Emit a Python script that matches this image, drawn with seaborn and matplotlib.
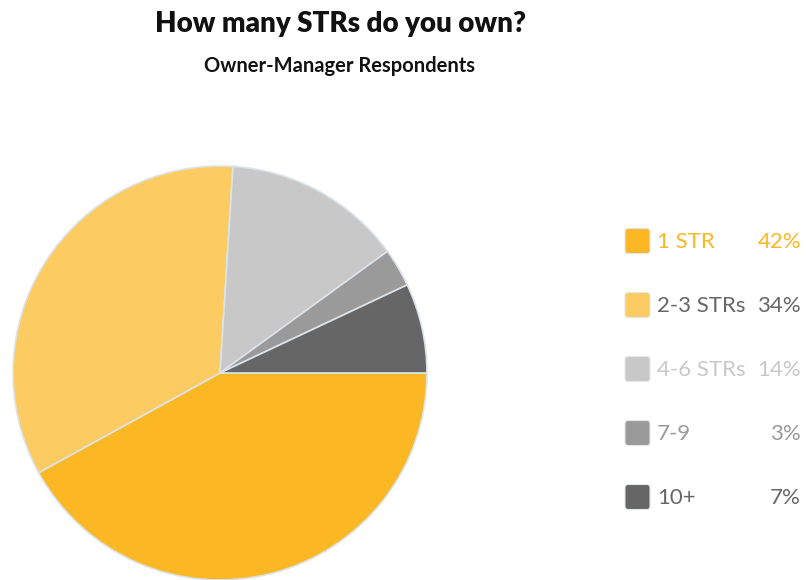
import matplotlib
matplotlib.use("Agg")
import matplotlib.pyplot as plt
from matplotlib.patches import FancyBboxPatch
import seaborn as sns

# Survey breakdown
categories = ["1 STR", "2-3 STRs", "4-6 STRs", "7-9", "10+"]
shares = [42, 34, 14, 3, 7]
slice_colors = ["#FBB724", "#FCCB62", "#C8C8C8", "#9A9A9A", "#666666"]
label_colors = ["#FBB724", "#666666", "#C8C8C8", "#9A9A9A", "#666666"]
title = "How many STRs do you own?"
subtitle = "Owner-Manager Respondents"

sns.set_theme(style="white")
plt.rcParams["font.family"] = ["Lato", "DejaVu Sans"]

W, H = 806, 580
fig = plt.figure(figsize=(W / 100, H / 100), dpi=100)

# Pie axes: centre (220, 373) px, radius 208 px
cx, cy, r = 220, 373, 208
ax = fig.add_axes([(cx - r) / W, (H - cy - r) / H, 2 * r / W, 2 * r / H])
ax.pie(shares, colors=slice_colors, startangle=0, counterclock=False,
       radius=1.0, wedgeprops=dict(edgecolor="#DCE3E8", linewidth=1.2))
ax.set_xlim(-1.005, 1.005)
ax.set_ylim(-1.005, 1.005)
ax.set_aspect("equal")
ax.axis("off")

# Overlay in pixel coordinates for titles and legend
ov = fig.add_axes([0, 0, 1, 1], facecolor="none")
ov.set_xlim(0, W)
ov.set_ylim(H, 0)
ov.axis("off")

ov.text(341, 24, title, ha="center", va="center", fontsize=20,
        fontweight="heavy", color="#111111")
ov.text(340, 66, subtitle, ha="center", va="center", fontsize=14.5,
        fontweight="bold", color="#111111")

row_y = [241, 305, 369, 433, 497]
for cat, val, sc, tc, y in zip(categories, shares, slice_colors, label_colors, row_y):
    box = FancyBboxPatch((626.5, y - 11), 22, 22,
                         boxstyle="round,pad=1.5,rounding_size=3",
                         facecolor=sc, edgecolor="#E3E7EA", linewidth=0.8)
    ov.add_patch(box)
    ov.text(657, y + 1, cat, ha="left", va="center", fontsize=16, color=tc)
    ov.text(801, y + 1, f"{val}%", ha="right", va="center", fontsize=16, color=tc)

fig.savefig("out.png", dpi=100, facecolor="white")
